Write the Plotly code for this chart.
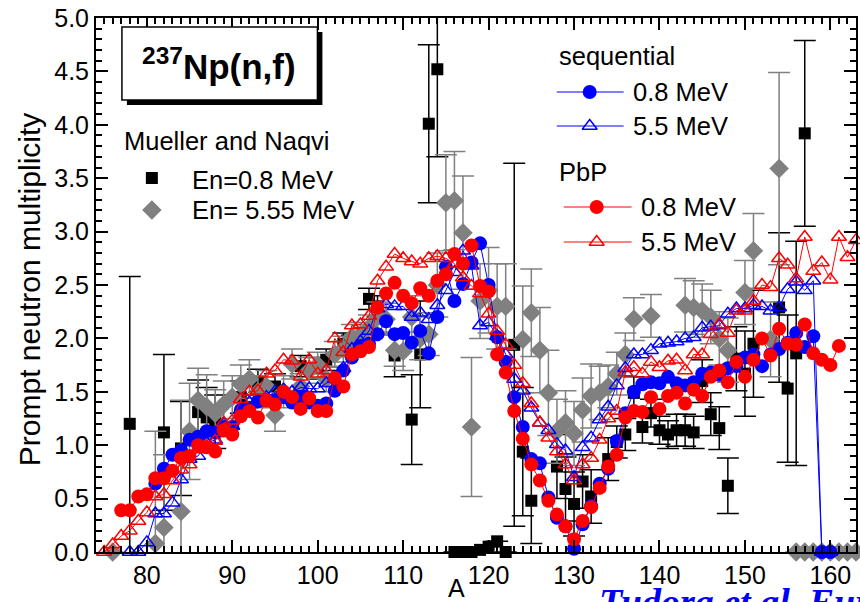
import plotly.graph_objects as go

# ---------------- data ----------------
seq08_A = list(range(81, 161))
seq08_v = [0.64, 0.78, 0.91, 0.95, 1.05, 1.08, 1.13, 1.12, 1.17, 1.17,
           1.33, 1.35, 1.41, 1.42, 1.42, 1.45, 1.40, 1.45, 1.40, 1.37,
           1.39, 1.51, 1.70, 1.82, 1.93, 1.95, 2.04, 2.16, 2.04, 2.05,
           1.96, 2.07, 1.86, 2.20, 2.67, 2.35, 2.51, 2.71, 2.89, 2.50,
           2.01, 1.78, 1.45, 1.17, 0.87, 0.83, 0.51, 0.32, 0.24, 0.03,
           0.26, 0.43, 0.64, 0.78, 1.04, 1.30, 1.50, 1.57, 1.59, 1.58,
           1.64, 1.58, 1.56, 1.59, 1.67, 1.68, 1.66, 1.72, 1.74, 1.82,
           1.85, 1.74, 1.85, 1.90, 1.96, 2.05, 1.92, 2.02, 0.0, 0.0]

seq55_A = list(range(78, 161))
seq55_v = [0.0, 0.0, 0.09, 0.36, 0.36, 0.46, 0.68, 0.87, 0.90, 1.02,
           1.05, 1.20, 1.18, 1.33, 1.40, 1.40, 1.45, 1.50, 1.52, 1.50,
           1.54, 1.53, 1.53, 1.58, 1.62, 1.72, 1.90, 1.97, 2.07, 2.28,
           2.32, 2.30, 2.30, 2.20, 2.24, 2.18, 2.31, 2.45, 2.62, 2.82,
           2.68, 2.12, 2.15, 2.02, 1.85, 1.62, 1.51, 1.35, 1.21, 1.14,
           1.01, 0.95, 0.70, 0.98, 1.07, 1.24, 1.36, 1.56, 1.72, 1.85,
           1.85, 1.89, 1.95, 1.96, 1.97, 2.00, 2.01, 2.10, 2.11, 2.12,
           2.23, 2.28, 2.28, 2.31, 2.30, 2.26, 2.29, 2.46, 2.53, 2.45,
           2.54, 0.0, 0.0]

pbp08_A = list(range(77, 162))
pbp08_v = [0.39, 0.39, 0.52, 0.54, 0.69, 0.69, 0.76, 0.88, 0.90, 1.00,
           0.98, 0.94, 1.14, 1.10, 1.27, 1.32, 1.26, 1.42, 1.38, 1.50,
           1.45, 1.34, 1.44, 1.32, 1.32, 1.63, 1.55, 1.85, 1.88, 1.92,
           2.29, 2.42, 2.52, 2.40, 2.33, 2.47, 2.40, 2.54, 2.60, 2.79,
           2.70, 2.87, 2.49, 2.44, 1.85, 1.68, 1.32, 1.06, 0.82, 0.67,
           0.48, 0.35, 0.24, 0.12, 0.29, 0.42, 0.60, 0.80, 0.91, 1.26,
           1.32, 1.31, 1.45, 1.34, 1.46, 1.49, 1.39, 1.52, 1.46, 1.64,
           1.70, 1.59, 1.78, 1.64, 1.80, 2.00, 1.84, 2.09, 1.95, 1.94,
           2.13, 1.86, 1.80, 1.75, 1.93]

pbp55_A = list(range(75, 164))
pbp55_v = [0.00, 0.07, 0.15, 0.20, 0.29, 0.37, 0.52, 0.54, 0.67, 0.77,
           0.82, 0.96, 0.99, 1.04, 1.21, 1.23, 1.43, 1.50, 1.51, 1.67,
           1.70, 1.80, 1.79, 1.64, 1.80, 1.67, 1.70, 2.00, 1.87, 2.12,
           2.13, 2.21, 2.54, 2.67, 2.79, 2.75, 2.72, 2.70, 2.75, 2.77,
           2.75, 2.70, 2.57, 2.49, 2.42, 2.23, 2.07, 1.94, 1.75, 1.58,
           1.39, 1.21, 1.07, 0.94, 0.82, 0.67, 0.82, 0.88, 1.05, 1.25,
           1.32, 1.68, 1.73, 1.67, 1.78, 1.73, 1.79, 1.80, 1.70, 1.85,
           1.85, 2.04, 2.13, 2.05, 2.26, 2.26, 2.35, 2.50, 2.48, 2.75,
           2.69, 2.56, 2.95, 2.63, 2.71, 2.55, 2.95, 2.76, 2.92]

mn08_A = [78, 82, 84, 86, 87, 88, 91, 93, 95, 98, 100, 101, 103, 104, 106, 107,
          109, 111, 112, 113, 114, 116, 117, 118, 119, 120, 121, 122, 123, 124,
          125, 128, 129, 130, 131, 132, 134, 135, 136, 137, 138, 139, 140, 141,
          142, 143, 144, 145, 146, 147, 148, 149, 150, 151, 154, 155, 156, 157]
mn08_v = [1.20, 1.12, 0.97, 1.31, 1.26, 1.22, 1.45, 1.59, 1.55, 1.74, 1.72, 1.80,
          1.95, 1.93, 2.37, 2.30, 1.84, 1.24, 1.85, 4.01, 4.52, 0.00, 0.00, 0.00,
          0.02, 0.05, 0.10, 0.00, 1.94, 0.94, 0.48, 0.80, 0.59, 0.45, 0.66, 0.52,
          0.87, 1.03, 1.10, 1.49, 1.17, 1.30, 1.14, 1.10, 1.14, 1.14, 1.12, 1.60,
          1.29, 1.16, 0.62, 1.81, 1.67, 1.95, 2.29, 1.53, 1.86, 3.92]
mn08_err = [1.38, 0.73, 0.44, 0.30, 0.28, 0.25, 0.15, 0.12, 0.12, 0.10, 0.10, 0.10,
            0.10, 0.10, 0.10, 0.10, 0.20, 0.42, 0.50, 0.74, 0.82, 0.0, 0.0, 0.0,
            0.0, 0.0, 0.0, 0.0, 1.70, 0.60, 0.40, 0.30, 0.30, 0.30, 0.25, 0.25,
            0.20, 0.15, 0.15, 0.15, 0.15, 0.13, 0.13, 0.13, 0.15, 0.15, 0.15, 0.20,
            0.20, 0.20, 0.26, 0.30, 0.40, 0.50, 0.70, 0.69, 1.05, 0.87]

mn55_A = [76, 81, 82, 84, 85, 86, 87, 88, 89, 90, 91, 92, 93, 94, 95, 96, 97, 98,
          99, 100, 101, 102, 103, 104, 105, 106, 107, 108, 109, 110, 111, 112,
          113, 114, 115, 116, 117, 118, 119, 120, 121, 122, 124, 125, 126, 127,
          128, 129, 130, 131, 132, 133, 134, 135, 136, 137, 139, 143, 144, 145,
          146, 147, 148, 150, 151, 153, 154, 156, 157, 158, 159, 160, 161, 162, 163]
mn55_v = [0.00, 0.08, 0.23, 0.38, 1.13, 1.42, 1.36, 1.30, 1.38, 1.45, 1.57, 1.62,
          1.50, 1.55, 1.28, 1.50, 1.76, 1.55, 1.70, 1.75, 1.62, 1.85, 1.90, 2.01,
          2.03, 2.10, 2.20, 2.18, 1.89, 1.88, 2.20, 2.00, 2.04, 2.50, 3.27, 3.29,
          2.99, 1.17, 2.35, 2.45, 2.30, 2.30, 1.99, 2.24, 1.89, 1.49, 1.13, 1.21,
          1.11, 1.33, 1.46, 1.49, 1.55, 1.67, 1.85, 2.18, 2.21, 2.31, 2.29, 2.26,
          2.20, 2.00, 1.89, 2.43, 2.82, 1.99, 3.59, 0.0, 0.0, 0.0, 0.0, 0.0, 0.0,
          0.0, 0.0]
mn55_err = [0.0, 1.05, 0.68, 1.04, 0.45, 0.30, 0.30, 0.22, 0.22, 0.20, 0.18, 0.18,
            0.15, 0.15, 0.15, 0.15, 0.14, 0.12, 0.12, 0.12, 0.12, 0.12, 0.12, 0.12,
            0.12, 0.12, 0.14, 0.15, 0.15, 0.18, 0.20, 0.20, 0.20, 0.30, 0.45, 0.46,
            0.53, 0.65, 0.35, 0.40, 0.40, 0.40, 0.50, 0.41, 0.40, 0.40, 0.30, 0.30,
            0.30, 0.30, 0.30, 0.25, 0.20, 0.20, 0.20, 0.20, 0.20, 0.25, 0.25, 0.25,
            0.25, 0.25, 0.30, 0.30, 0.35, 0.35, 0.90, 0.0, 0.0, 0.0, 0.0, 0.0, 0.0,
            0.0, 0.0]

x_range = [74.05, 163.0]
y_range = [0.0, 5.0]

# pixel frame of the plotting area (used by the overlay axes for legend/labels)
L, R, T, B = 96, 858, 18, 552
W, H = 860, 602

BLUE = "#0000FF"
RED = "#FF0000"
GREY = "#808080"

FONT = "Liberation Sans, Arial, sans-serif"


def px_to_paper(px, py):
    return (px - L) / (R - L), (B - py) / (B - T)


fig = go.Figure()

# experimental data
fig.add_trace(go.Scatter(
    x=mn08_A, y=mn08_v, mode="markers",
    error_y=dict(type="data", array=mn08_err, color="black", thickness=1.5, width=11),
    marker=dict(symbol="square", size=12, color="black"),
    cliponaxis=False, showlegend=False))
fig.add_trace(go.Scatter(
    x=mn55_A, y=mn55_v, mode="markers",
    error_y=dict(type="data", array=mn55_err, color=GREY, thickness=1.5, width=11),
    marker=dict(symbol="diamond", size=15, color=GREY),
    cliponaxis=False, showlegend=False))

# calculations
fig.add_trace(go.Scatter(
    x=seq08_A, y=seq08_v, mode="lines+markers",
    line=dict(color=BLUE, width=1),
    marker=dict(symbol="circle", size=14, color=BLUE),
    cliponaxis=False, showlegend=False))
fig.add_trace(go.Scatter(
    x=seq55_A, y=seq55_v, mode="lines+markers",
    line=dict(color=BLUE, width=1),
    marker=dict(symbol="triangle-up-open", size=13, color=BLUE, line=dict(width=1.5)),
    cliponaxis=False, showlegend=False))
fig.add_trace(go.Scatter(
    x=pbp08_A, y=pbp08_v, mode="lines+markers",
    line=dict(color=RED, width=1),
    marker=dict(symbol="circle", size=14, color=RED),
    cliponaxis=False, showlegend=False))
fig.add_trace(go.Scatter(
    x=pbp55_A, y=pbp55_v, mode="lines+markers",
    line=dict(color=RED, width=1),
    marker=dict(symbol="triangle-up-open", size=13, color=RED, line=dict(width=1.5)),
    cliponaxis=False, showlegend=False))

# ---------------- legend (pixel-frame overlay axes) ----------------
leg_items = [
    (None, None, 152, 178, "square", "black", 12),
    (None, None, 152, 210, "diamond", GREY, 15),
    (558, 625, 591, 92, "circle", BLUE, 14),
    (558, 625, 591, 126, "triangle-up-open", BLUE, 13),
    (565, 633, 598, 207, "circle", RED, 14),
    (565, 633, 598, 242, "triangle-up-open", RED, 13),
]
for x0, x1, xm, yy, sym, col, sz in leg_items:
    if x0 is not None:
        fig.add_trace(go.Scatter(x=[x0, x1], y=[yy, yy], mode="lines",
                                 line=dict(color=col, width=1),
                                 xaxis="x2", yaxis="y2", showlegend=False,
                                 hoverinfo="skip"))
    mk = dict(symbol=sym, size=sz, color=col)
    if "open" in sym:
        mk["line"] = dict(width=1.5)
    fig.add_trace(go.Scatter(x=[xm], y=[yy], mode="markers", marker=mk,
                             xaxis="x2", yaxis="y2", showlegend=False,
                             cliponaxis=False, hoverinfo="skip"))

texts = [
    ("Mueller and Naqvi", 122, 141),
    ("En=0.8 MeV", 190, 180),
    ("En= 5.55 MeV", 190, 210),
    ("sequential", 558, 56),
    ("0.8 MeV", 632, 92),
    ("5.5 MeV", 632, 126),
    ("PbP", 558, 172),
    ("0.8 MeV", 640, 207),
    ("5.5 MeV", 640, 242),
]
annotations = []
for t, xx, yy in texts:
    annotations.append(dict(text=t, x=xx, y=yy, xref="x2", yref="y2",
                            xanchor="left", yanchor="middle", showarrow=False,
                            font=dict(family=FONT, size=25.5, color="black")))

# title box with shadow
shapes = [
    dict(type="rect", xref="x2", yref="y2", x0=127, x1=323, y0=32, y1=105,
         fillcolor="black", line=dict(width=0), layer="above"),
    dict(type="rect", xref="x2", yref="y2", x0=122, x1=318, y0=27, y1=100,
         fillcolor="white", line=dict(color="black", width=1.5), layer="above"),
]
annotations.append(dict(text="<b><sup>237</sup>Np(n,f)</b>", x=219, y=64,
                        xref="x2", yref="y2", xanchor="center", yanchor="middle",
                        showarrow=False,
                        font=dict(family=FONT, size=35, color="black")))

# axis titles (paper coordinates, outside the plotting area)
ax_, ay_ = px_to_paper(457, 588)
annotations.append(dict(text="A", x=ax_, y=ay_, xref="paper", yref="paper",
                        xanchor="center", yanchor="middle", showarrow=False,
                        font=dict(family=FONT, size=25, color="black")))
tx_, ty_ = px_to_paper(29, 290)
annotations.append(dict(text="Prompt neutron multiplicity", x=tx_, y=ty_,
                        xref="paper", yref="paper", xanchor="center", yanchor="middle",
                        textangle=-90, showarrow=False,
                        font=dict(family=FONT, size=30, color="black")))
# citation, cut by the page edge
cx_, cy_ = px_to_paper(598, 579)
annotations.append(dict(text="<b><i>Tudora et al. Eur. Phys. J. A</i></b>",
                        x=cx_, y=cy_, xref="paper", yref="paper",
                        xanchor="left", yanchor="top", showarrow=False,
                        font=dict(family="Liberation Serif, Times New Roman, serif",
                                  size=38, color=BLUE)))

axis_common = dict(showline=True, linecolor="black", linewidth=2, mirror="allticks",
                   ticks="inside", tickcolor="black", tickwidth=2, ticklen=12,
                   showgrid=False, zeroline=False,
                   tickfont=dict(family=FONT, size=25, color="black"))

fig.update_layout(
    width=W, height=H,
    margin=dict(l=L, r=W - R, t=T, b=H - B),
    paper_bgcolor="white", plot_bgcolor="white",
    showlegend=False,
    xaxis=dict(range=x_range, dtick=10, tick0=0,
               minor=dict(dtick=1, ticks="inside", ticklen=6, tickwidth=1.5,
                          tickcolor="black", showgrid=False),
               **axis_common),
    yaxis=dict(range=y_range, dtick=0.5, tick0=0, tickformat=".1f",
               minor=dict(dtick=0.1, ticks="inside", ticklen=6, tickwidth=1.5,
                          tickcolor="black", showgrid=False),
               **axis_common),
    xaxis2=dict(range=[L, R], overlaying="x", visible=False, fixedrange=True),
    yaxis2=dict(range=[B, T], overlaying="y", visible=False, fixedrange=True),
    shapes=shapes,
    annotations=annotations,
)

fig.write_html("out.html")
